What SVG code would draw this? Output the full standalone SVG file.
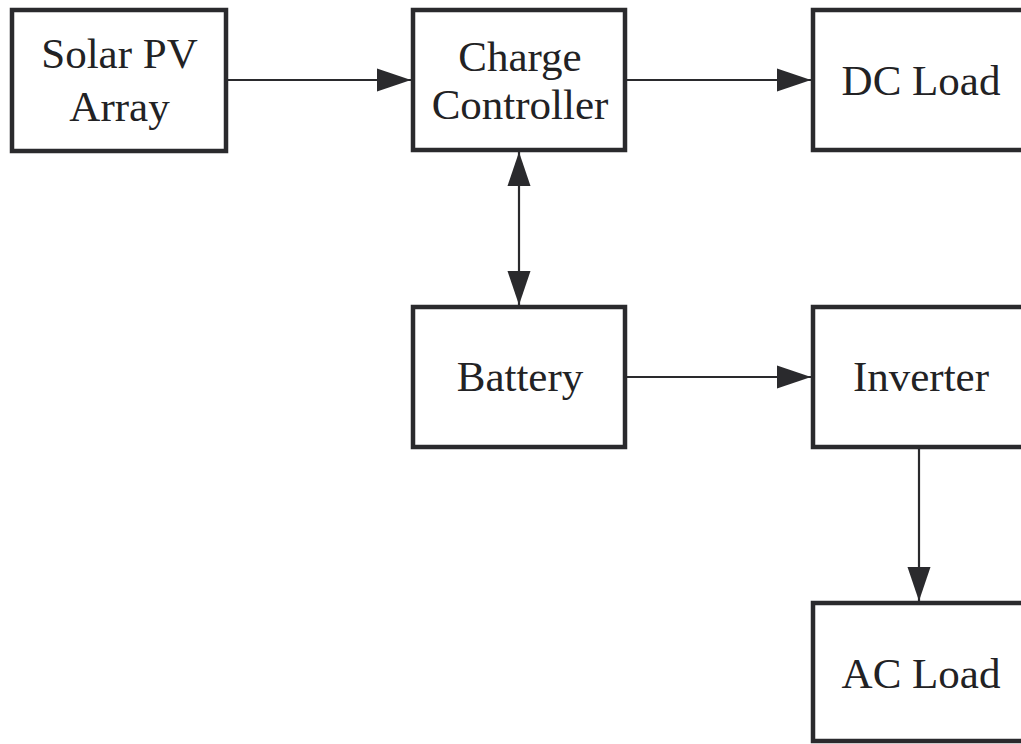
<svg xmlns="http://www.w3.org/2000/svg" width="1021" height="744" viewBox="0 0 1021 744">
<defs>
<style>
.box{fill:#ffffff;stroke:#2a2a2d;stroke-width:4.5}
.lbl{font-family:"Liberation Serif","Times New Roman",serif;font-size:43px;fill:#222224;text-anchor:middle}
.conn{stroke:#2a2a2d;stroke-width:2.2;fill:none}
</style>
<marker id="arr" markerUnits="userSpaceOnUse" markerWidth="34" markerHeight="24" refX="34" refY="12" orient="auto-start-reverse" viewBox="0 0 34 24">
<path d="M0,0.5 L34,12 L0,23.5 z" fill="#2a2a2d"/>
</marker>
</defs>
<rect width="1021" height="744" fill="#ffffff"/>
<g id="connectors">
<path class="conn" d="M228,80 H411" marker-end="url(#arr)"/>
<path class="conn" d="M627,80 H811" marker-end="url(#arr)"/>
<path class="conn" d="M519,152 V305" marker-start="url(#arr)" marker-end="url(#arr)"/>
<path class="conn" d="M627,377 H811" marker-end="url(#arr)"/>
<path class="conn" d="M919,449 V601" marker-end="url(#arr)"/>
</g>
<g id="solar-pv-array">
<rect class="box" x="12" y="10" width="214" height="141"/>
<text class="lbl" x="119.5" y="68">Solar PV</text>
<text class="lbl" x="119.5" y="121">Array</text>
</g>
<g id="charge-controller">
<rect class="box" x="413" y="10" width="212" height="140"/>
<text class="lbl" x="520" y="71">Charge</text>
<text class="lbl" x="520" y="119">Controller</text>
</g>
<g id="dc-load">
<rect class="box" x="813" y="10" width="212" height="140"/>
<text class="lbl" x="921" y="95">DC Load</text>
</g>
<g id="battery">
<rect class="box" x="413" y="307" width="212" height="140"/>
<text class="lbl" x="520" y="391">Battery</text>
</g>
<g id="inverter">
<rect class="box" x="813" y="307" width="212" height="140"/>
<text class="lbl" x="921" y="391">Inverter</text>
</g>
<g id="ac-load">
<rect class="box" x="813" y="603" width="212" height="138"/>
<text class="lbl" x="921" y="688">AC Load</text>
</g>
</svg>
